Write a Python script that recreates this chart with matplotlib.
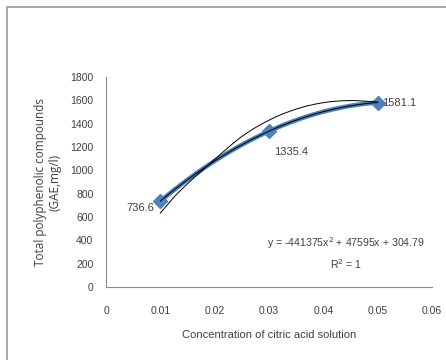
import numpy as np
import matplotlib.pyplot as plt
from matplotlib.patches import Rectangle

plt.rcParams['font.family'] = ['Liberation Sans', 'DejaVu Sans']

conc = [0.01, 0.03, 0.05]
phenolics = [736.6, 1335.4, 1581.1]
point_labels = ['736.6', '1335.4', '1581.1']

# polynomial trendline coefficients shown on the chart
coef_a = -441375
coef_b = 47595
coef_c = 304.79

# second thin black curve
curve_x = [0.010, 0.0125, 0.015, 0.0175, 0.020, 0.025, 0.030, 0.035, 0.040, 0.045, 0.050]
curve_y = [634, 770, 885, 990, 1095, 1290, 1430, 1525, 1580, 1598, 1585]

xticks = [0, 0.01, 0.02, 0.03, 0.04, 0.05, 0.06]
yticks = [0, 200, 400, 600, 800, 1000, 1200, 1400, 1600, 1800]


def smooth(px, py, n=20):
    # Catmull-Rom through the read points, like a smoothed chart line
    px = np.asarray(px, float)
    py = np.asarray(py, float)
    P = np.column_stack([px, py])
    P = np.vstack([P[0], P, P[-1]])
    out = []
    t = np.linspace(0, 1, n, endpoint=False)[:, None]
    for i in range(1, len(P) - 2):
        p0, p1, p2, p3 = P[i - 1], P[i], P[i + 1], P[i + 2]
        seg = 0.5 * ((2 * p1) + (-p0 + p2) * t + (2 * p0 - 5 * p1 + 4 * p2 - p3) * t ** 2
                     + (-p0 + 3 * p1 - 3 * p2 + p3) * t ** 3)
        out.append(seg)
    out.append(P[-2][None, :])
    out = np.vstack(out)
    return out[:, 0], out[:, 1]


fig = plt.figure(figsize=(4.46, 3.6), dpi=100)
fig.patches.append(Rectangle((7 / 446, -0.1), 1.2, 1.1 - 7 / 360,
                             transform=fig.transFigure, fill=False,
                             edgecolor='#a0a0a0', linewidth=1.3))
ax = fig.add_axes([106 / 446, 1 - 287 / 360, 326 / 446, 210 / 360])

xs = np.linspace(conc[0], conc[-1], 100)
trend = coef_a * xs ** 2 + coef_b * xs + coef_c
ax.plot(xs, trend, color='#4a7ebb', linewidth=3.2, zorder=2)
ax.plot(conc, phenolics, linestyle='none', marker='D', markersize=7.5,
        color='#4f81bd', zorder=3)
ax.plot(xs, trend, color='black', linewidth=0.7, zorder=4)
cx, cy = smooth(curve_x, curve_y)
ax.plot(cx, cy, color='black', linewidth=0.7, zorder=4)

ax.annotate(point_labels[0], (conc[0], phenolics[0]), xytext=(-4, -5),
            textcoords='offset points', ha='right', va='center', fontsize=8, color='#404040')
ax.annotate(point_labels[1], (conc[1], phenolics[1]), xytext=(4, -15),
            textcoords='offset points', ha='left', va='center', fontsize=8, color='#404040')
ax.annotate(point_labels[2], (conc[2], phenolics[2]), xytext=(3, 0),
            textcoords='offset points', ha='left', va='center', fontsize=8, color='#404040')

ax.text(0.0442, 377, 'y = -441375x$^2$ + 47595x + 304.79', ha='center', va='center',
        fontsize=7.6, color='#404040')
ax.text(0.0442, 200, 'R$^2$ = 1', ha='center', va='center', fontsize=7.6, color='#404040')

ax.set_xlim(0, 0.06)
ax.set_ylim(0, 1800)
ax.set_xticks(xticks)
ax.set_xticklabels(['0', '0.01', '0.02', '0.03', '0.04', '0.05', '0.06'])
ax.set_yticks(yticks)
ax.tick_params(length=0, labelsize=7.5, colors='#404040')
ax.tick_params(axis='x', pad=14)
ax.tick_params(axis='y', pad=9)
for side in ['top', 'right']:
    ax.spines[side].set_visible(False)
for side in ['left', 'bottom']:
    ax.spines[side].set_color('#8c8c8c')
    ax.spines[side].set_linewidth(0.8)

ax.set_xlabel('Concentration of citric acid solution', fontsize=8, color='#404040', labelpad=10)
ax.set_ylabel('Total polyphenolic compounds\n(GAE,mg/l)', fontsize=8.5, color='#404040',
              family=['Open Sans', 'DejaVu Sans'], labelpad=6)

fig.savefig('out.png', dpi=100)
